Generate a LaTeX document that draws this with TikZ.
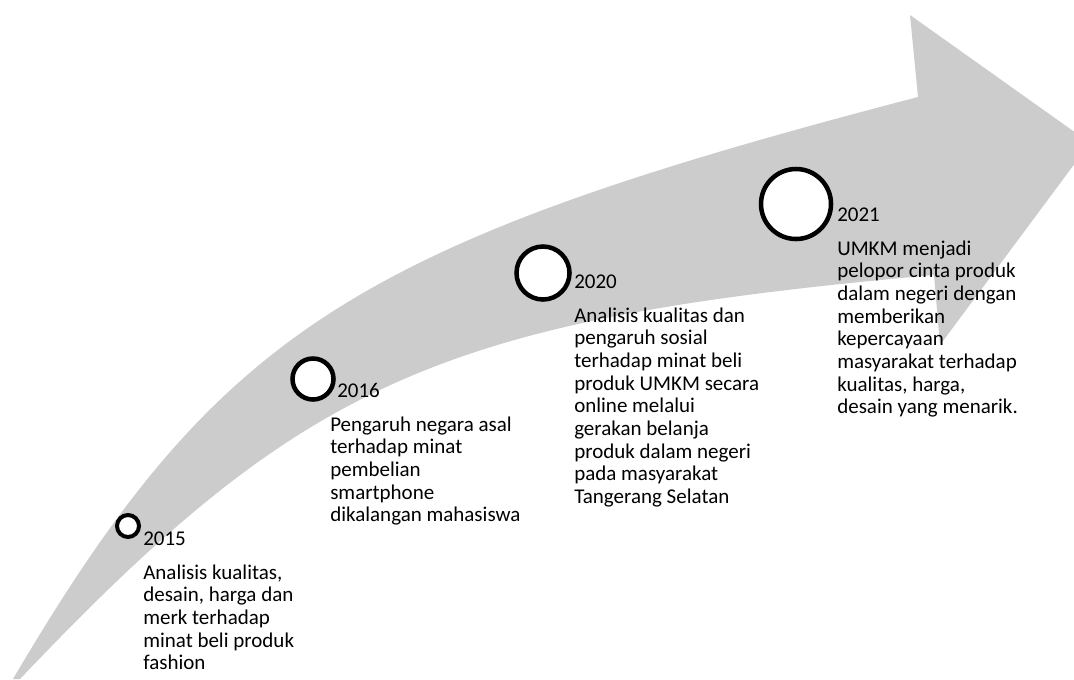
\documentclass[tikz,border=0pt]{standalone}
\usepackage{fontspec}
\setmainfont{Carlito}
\usepackage{tikz}
\usetikzlibrary{positioning}

\begin{document}
\begin{tikzpicture}[x=0.75pt, y=-0.75pt,
    bar/.style={fill=black!20, draw=none},
    dot/.style={circle, draw=black, fill=white, line width=3.4pt, inner sep=0pt},
    year/.style={anchor=base west, inner sep=0pt, font=\fontsize{15.75}{17}\selectfont},
    info/.style={anchor=base west, inner sep=0pt, font=\fontsize{15.75}{17}\selectfont}
]
    \useasboundingbox (0,0) rectangle (1074,679);
    \clip (0,0) rectangle (1074,679);

    % Curved arrow
    \fill[bar] (13,679) .. controls (218,331) and (354,244) .. (918,97)
        -- (910,15) -- (1090,143) -- (940,345) -- (934,275)
        .. controls (441,319) and (304,380) .. (20,679)
        -- cycle;

    % 2015
    \node[dot, minimum size=16.5pt, line width=3pt] (c15) at (128,526) {};
    \node[year] (y15) at (143,545) {2015};
    \node[info] (t15) at (143,579) {\begin{tabular}[t]{@{}l@{}}
        Analisis kualitas,\\ desain, harga dan\\ merk terhadap\\ minat beli produk\\ fashion
    \end{tabular}};

    % 2016
    \node[dot, minimum size=30.75pt] (c16) at (313,379) {};
    \node[year] (y16) at (337,397) {2016};
    \node[info] (t16) at (330,431) {\begin{tabular}[t]{@{}l@{}}
        Pengaruh negara asal\\ terhadap minat\\ pembelian\\ smartphone\\ dikalangan mahasiswa
    \end{tabular}};

    % 2020
    \node[dot, minimum size=39.75pt] (c20) at (543,273) {};
    \node[year] (y20) at (574,288) {2020};
    \node[info] (t20) at (574,322) {\begin{tabular}[t]{@{}l@{}}
        Analisis kualitas dan\\ pengaruh sosial\\ terhadap minat beli\\ produk UMKM secara\\ online melalui\\
        gerakan belanja\\ produk dalam negeri\\ pada masyarakat\\ Tangerang Selatan
    \end{tabular}};

    % 2021
    \node[dot, minimum size=52.5pt] (c21) at (796,204) {};
    \node[year] (y21) at (837,221) {2021};
    \node[info] (t21) at (837,255) {\begin{tabular}[t]{@{}l@{}}
        UMKM menjadi\\ pelopor cinta produk\\ dalam negeri dengan\\ memberikan\\ kepercayaan\\
        masyarakat terhadap\\ kualitas, harga,\\ desain yang menarik.
    \end{tabular}};
\end{tikzpicture}
\end{document}
